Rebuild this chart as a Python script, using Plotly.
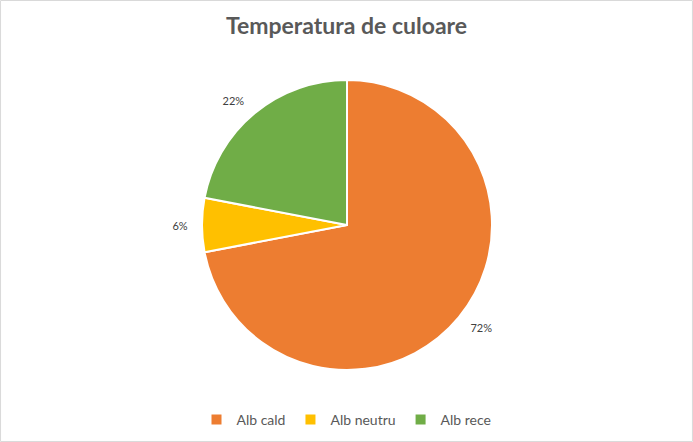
import plotly.graph_objects as go

categories = ["Alb cald", "Alb neutru", "Alb rece"]
values = [72, 6, 22]
colors = ["#ED7D31", "#FFC000", "#70AD47"]
title_text = "Temperatura de culoare"

W, H = 693, 442
FONT = "Lato, Noto Sans, sans-serif"

# visible pie (no text)
fig = go.Figure(go.Pie(
    labels=categories,
    values=values,
    marker=dict(colors=colors, line=dict(color="white", width=2)),
    sort=False,
    direction="clockwise",
    rotation=0,
    textinfo="none",
    domain=dict(x=[202 / W, 492 / W], y=[1 - 370 / H, 1 - 80 / H]),
    hoverinfo="label+percent",
))

# transparent, slightly larger pie that carries the outside percentage labels
fig.add_trace(go.Pie(
    labels=categories,
    values=values,
    marker=dict(colors=["rgba(0,0,0,0)"] * len(values), line=dict(width=0)),
    sort=False,
    direction="clockwise",
    rotation=0,
    texttemplate="%{percent:.0%}",
    textposition="outside",
    textfont=dict(family=FONT, size=11, color="#404040"),
    domain=dict(x=[191 / W, 503 / W], y=[1 - 381 / H, 1 - 69 / H]),
    hoverinfo="skip",
    showlegend=False,
))

fig.update_layout(
    width=W, height=H,
    margin=dict(l=0, r=0, t=0, b=0),
    paper_bgcolor="white",
    plot_bgcolor="white",
    title=dict(text="<b>" + title_text + "</b>", x=0.5, xanchor="center",
               y=1 - 26 / H, yanchor="middle",
               font=dict(family=FONT, size=23, color="#595959")),
    legend=dict(orientation="h", x=0.5, xanchor="center", y=1 - 420 / H, yanchor="middle",
                font=dict(family=FONT, size=14, color="#595959"),
                traceorder="normal", itemwidth=30),
    shapes=[dict(type="rect", xref="paper", yref="paper", x0=0.0008, x1=0.9992, y0=0.0012, y1=0.9988,
                 line=dict(color="#D9D9D9", width=1))],
)

fig.write_html("out.html",
               config={"displayModeBar": False},
               post_script="document.body.style.margin='0';document.body.style.overflow='hidden';")
